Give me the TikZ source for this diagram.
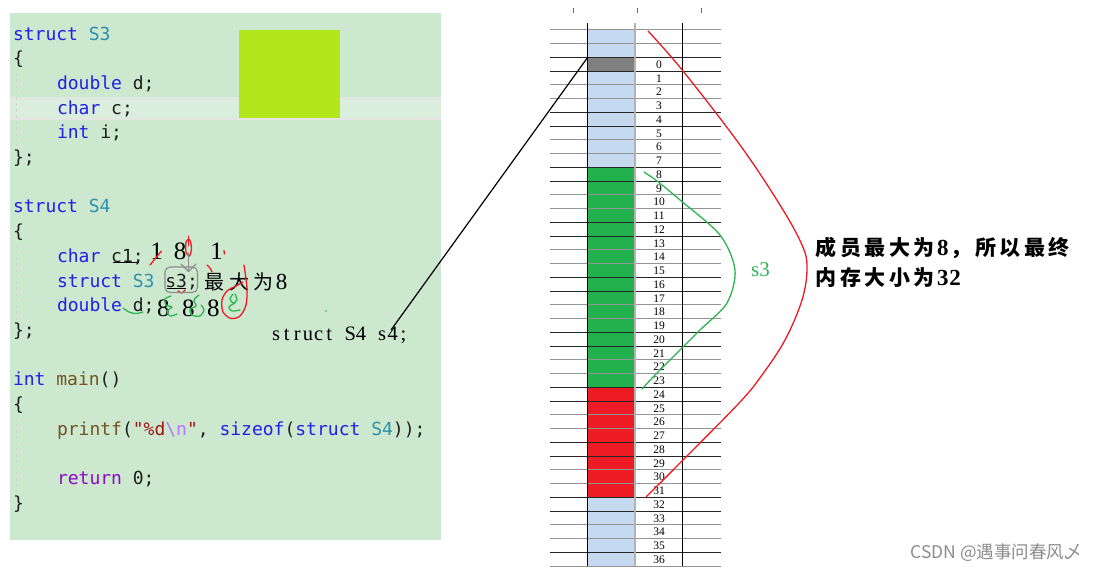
\documentclass[tikz,border=0pt]{standalone}
\usepackage{fontspec}
\setmainfont{Liberation Serif}
\newfontfamily\codefont{DejaVu Sans Mono}
\newfontfamily\cjkfont{Noto Sans CJK SC}
\definecolor{panel}{HTML}{CCE8CF}
\definecolor{hlband}{HTML}{DBEDDD}
\definecolor{hlborder}{HTML}{E4E6E4}
\definecolor{lime}{HTML}{B5E61D}
\definecolor{kw}{HTML}{2020E8}
\definecolor{typ}{HTML}{2B91AF}
\definecolor{ident}{HTML}{1E1E1E}
\definecolor{func}{HTML}{74531F}
\definecolor{strred}{HTML}{A31515}
\definecolor{esc}{HTML}{B776FB}
\definecolor{ctrl}{HTML}{8F08C4}
\definecolor{guide}{HTML}{D6D0D4}
\definecolor{cellblue}{HTML}{C5D9F1}
\definecolor{cellgray}{HTML}{808080}
\definecolor{cellgreen}{HTML}{22B14C}
\definecolor{cellred}{HTML}{ED1C24}
\definecolor{pengreen}{HTML}{2DB551}
\definecolor{penred}{HTML}{ED1C24}
\newcommand\bx[2]{\makebox[#1pt][c]{#2}}
\newcommand\digf{\rmfamily\fontsize{23}{23}\selectfont}
\begin{document}
\begin{tikzpicture}[x=1pt,y=-1pt,
  code/.style={anchor=base west, inner sep=0pt, outer sep=0pt, text=ident, font=\codefont\fontsize{18}{22}\selectfont},
  hand/.style={anchor=base, inner sep=0pt, font=\fontsize{25}{25}\selectfont},
  num/.style={inner sep=0pt, font=\fontsize{11.5}{11.5}\selectfont},
  rowdark/.style={draw=black!85, line width=0.9pt},
  rowlight/.style={draw=black!42, line width=0.9pt},
  pen/.style={line width=1.3pt, line cap=round, line join=round},
  cell/.style={anchor=north west, inner sep=0pt, outer sep=0pt, minimum width=47.3pt},
  guideline/.style={draw=guide, line width=1pt, dash pattern=on 3pt off 3pt}]
\path[fill=white] (0,0) rectangle (1097,576);
\path[use as bounding box] (0,0) rectangle (1097,576);

% ---------- code panel ----------
\fill[panel] (10,13) rectangle (441,540);
\fill[hlband] (10,97.3) rectangle (441,120);
\draw[hlborder, line width=1.6pt] (10,98.1) -- (441,98.1);
\draw[hlborder, line width=1.6pt] (10,119.2) -- (441,119.2);
\fill[lime] (239,30) rectangle (340,117.7);
\draw[guideline] (16,73) -- (16,147);
\draw[guideline] (16,245) -- (16,320);
\draw[guideline] (16,418) -- (16,492);

\node[code] (l1)  at (13,40)    {\textcolor{kw}{struct} \textcolor{typ}{S3}};
\node[code] (l2)  at (13,64.7)  {\{};
\node[code] (l3)  at (57,89.4)  {\textcolor{kw}{double} d;};
\node[code] (l4)  at (57,114.1) {\textcolor{kw}{char} c;};
\node[code] (l5)  at (57,138.8) {\textcolor{kw}{int} i;};
\node[code] (l6)  at (13,163.5) {\};};
\node[code] (l8)  at (13,212.9) {\textcolor{kw}{struct} \textcolor{typ}{S4}};
\node[code] (l9)  at (13,237.6) {\{};
\node[code] (l10) at (57,262.3) {\textcolor{kw}{char} c1;};
\node[code] (l11) at (57,287)   {\textcolor{kw}{struct} \textcolor{typ}{S3} s3;};
\node[code] (l12) at (57,311.7) {\textcolor{kw}{double} d;};
\node[code] (l13) at (13,336.4) {\};};
\node[code] (l15) at (13,385.8) {\textcolor{kw}{int} \textcolor{func}{main}()};
\node[code] (l16) at (13,410.5) {\{};
\node[code] (l17) at (57,435.2) {\textcolor{func}{printf}(\textcolor{strred}{"\%d}\textcolor{esc}{\textbackslash n}\textcolor{strred}{"}, \textcolor{kw}{sizeof}(\textcolor{kw}{struct} \textcolor{typ}{S4}));};
\node[code] (l19) at (57,484.6) {\textcolor{ctrl}{return} 0;};
\node[code] (l20) at (13,509.3) {\}};

% ---------- hand annotations on code ----------
\draw[line width=1pt] (112.7,262) -- (139,262);
\draw[line width=1pt] (167,288.5) -- (186,288.5);
\node[hand] (a1) at (156.7,259) {1};
\node[hand] (a2) at (180,259) {8};
\node[hand] (a3) at (216.7,259) {1};
\node[hand] (b1) at (163.3,316) {8};
\node[hand] (b2) at (188.3,316) {8};
\node[hand] (b3) at (213.3,316) {8};
\node[anchor=base west, inner sep=0pt, font=\cjkfont\fontsize{20}{20}\selectfont] (max8) at (202.5,289.5)
  {\bx{24.3}{最}\bx{24.3}{大}\bx{24.3}{为}\bx{12.15}{\digf 8}};
\node[anchor=base west, inner sep=0pt, font=\fontsize{20.5}{20.5}\selectfont] (s4decl) at (270.7,340.5)
  {\bx{10.6}{s}\bx{10.6}{t}\bx{10.6}{r}\bx{10.6}{u}\bx{10.6}{c}\bx{10.6}{t}\bx{10.6}{}\bx{10.6}{S}\bx{10.6}{4}\bx{10.6}{}\bx{10.6}{s}\bx{10.6}{4}\bx{10.6}{;}};
\coordinate (s4end) at (391,330);

% red scribbles
\draw[pen, penred] (150,265) -- (161.5,251);
\draw[pen, penred] (188.5,236) -- (188.5,246);
\draw[pen, penred] plot[smooth cycle] coordinates {(186,242) (189.5,239.5) (191.5,248) (189.5,256) (186,252)};
\draw[pen, penred] (224,250.5) -- (224.5,254);
\draw[pen, penred] plot[smooth] coordinates {(207,265) (210,268) (212,272)};
\draw[pen, penred] plot[smooth] coordinates {(178,291) (182,293) (185,290)};
\draw[pen, penred] plot[smooth] coordinates {(244,265) (247,288) (246,305) (240,316) (231,318.5) (223,312) (222,300) (227,291) (236,286) (243,282)};
% gray scribbles
\draw[pen, black!45, line width=1.1pt] (188.5,253) -- (188.5,271.5);
\draw[pen, black!45, line width=1.1pt] (181,264) -- (188.5,271.5) -- (196,264);
\draw[black!45, line width=1.1pt, rounded corners=5pt] (165,267) rectangle (197.5,292.5);
% green scribbles
\draw[pen, pengreen] plot[smooth] coordinates {(123,308) (129,312) (136,313.5) (143,312)};
\draw[pen, pengreen] plot[smooth] coordinates {(171,296) (165,299) (166,305) (172,307) (167,311) (170,316) (177,314)};
\draw[pen, pengreen] plot[smooth] coordinates {(199,295) (194,300) (196,306) (190,309) (192,315) (200,316) (204,310) (201,305)};
\draw[pen, pengreen] plot[smooth] coordinates {(233,294) (230,299) (233,303) (237,300) (235,294)};
\draw[pen, pengreen] plot[smooth] coordinates {(235,303) (229,307) (232,311) (240,310)};
\fill[pengreen] (326,311) circle [radius=0.9];

% ---------- memory table ----------
\foreach \x in {573.3,637.3,701.7} \draw[black!60, line width=0.8pt] (\x,8) -- (\x,12.5);
\node[cell, fill=cellblue,  minimum height=27.5pt]  (topblue) at (587.7,29.8) {};
\node[cell, fill=cellgray,  minimum height=13.75pt] (cell0)   at (587.7,57.3) {};
\node[cell, fill=cellblue,  minimum height=96.25pt] (blue1)   at (587.7,71.05) {};
\node[cell, fill=cellgreen, minimum height=220pt]   (green8)  at (587.7,167.3) {};
\node[cell, fill=cellred,   minimum height=110pt]   (red24)   at (587.7,387.3) {};
\node[cell, fill=cellblue,  minimum height=68.75pt] (blue32)  at (587.7,497.3) {};
\foreach \k in {-2,2,...,34} {
  \draw[rowlight] (550,{57.3+\k*13.75}) -- (720.7,{57.3+\k*13.75});
  \draw[rowlight] (550,{57.3+(\k+1)*13.75}) -- (720.7,{57.3+(\k+1)*13.75});
}
\foreach \k in {0,4,...,32} {
  \draw[rowdark] (550,{57.3+\k*13.75}) -- (720.7,{57.3+\k*13.75});
  \draw[rowdark] (550,{57.3+(\k+1)*13.75}) -- (720.7,{57.3+(\k+1)*13.75});
}
\draw[rowdark] (550,{57.3+36*13.75}) -- (720.7,{57.3+36*13.75});
\draw[rowlight] (550,{57.3+37*13.75}) -- (720.7,{57.3+37*13.75});
\draw[black!30, line width=1.8pt] (635,23.3) -- (635,566);
\draw[black, line width=1pt] (587.7,23.3) -- (587.7,566);
\draw[black, line width=1pt] (682.7,23.3) -- (682.7,566);
\foreach \i in {0,...,36} \node[num] (n\i) at (659,{57.3+(\i+0.5)*13.75+0.5}) {\i};

% connector from s4 to its first byte
\draw[line width=1.2pt] (cell0.north west) -- (s4end);

% curves
\draw[pen, pengreen] plot[smooth] coordinates {(644,172) (657,181) (680,200) (720,235) (735,270) (727,303) (700,330) (673,357) (655,375) (642,389)};
\draw[pen, penred] plot[smooth, tension=0.6] coordinates {(648,31) (683,71) (740,145) (780,205) (802,245) (807,268) (802,300) (785,340) (762,375) (740,402) (683,460) (646,497)};

% labels on right
\node[anchor=base west, inner sep=0pt, text=pengreen, font=\fontsize{21}{21}\selectfont] (s3lbl) at (751,276.5) {s3};
\node[anchor=base west, inner sep=0pt, font=\cjkfont\bfseries\fontsize{21}{21}\selectfont] (note1) at (814,255)
  {\bx{24.5}{成}\bx{24.5}{员}\bx{24.5}{最}\bx{24.5}{大}\bx{24.5}{为}\bx{12.25}{\digf\bfseries 8}\bx{24.5}{，}\bx{24.5}{所}\bx{24.5}{以}\bx{24.5}{最}\bx{24.5}{终}};
\node[anchor=base west, inner sep=0pt, font=\cjkfont\bfseries\fontsize{21}{21}\selectfont] (note2) at (814,285)
  {\bx{24.5}{内}\bx{24.5}{存}\bx{24.5}{大}\bx{24.5}{小}\bx{24.5}{为}\bx{12.25}{\digf\bfseries 3}\bx{12.25}{\digf\bfseries 2}};

% watermark
\node[anchor=base east, inner sep=0pt, text=black!45, font=\cjkfont\fontsize{17.5}{17.5}\selectfont] (wm) at (1082,558.5) {CSDN @遇事问春风乄};
\end{tikzpicture}
\end{document}
